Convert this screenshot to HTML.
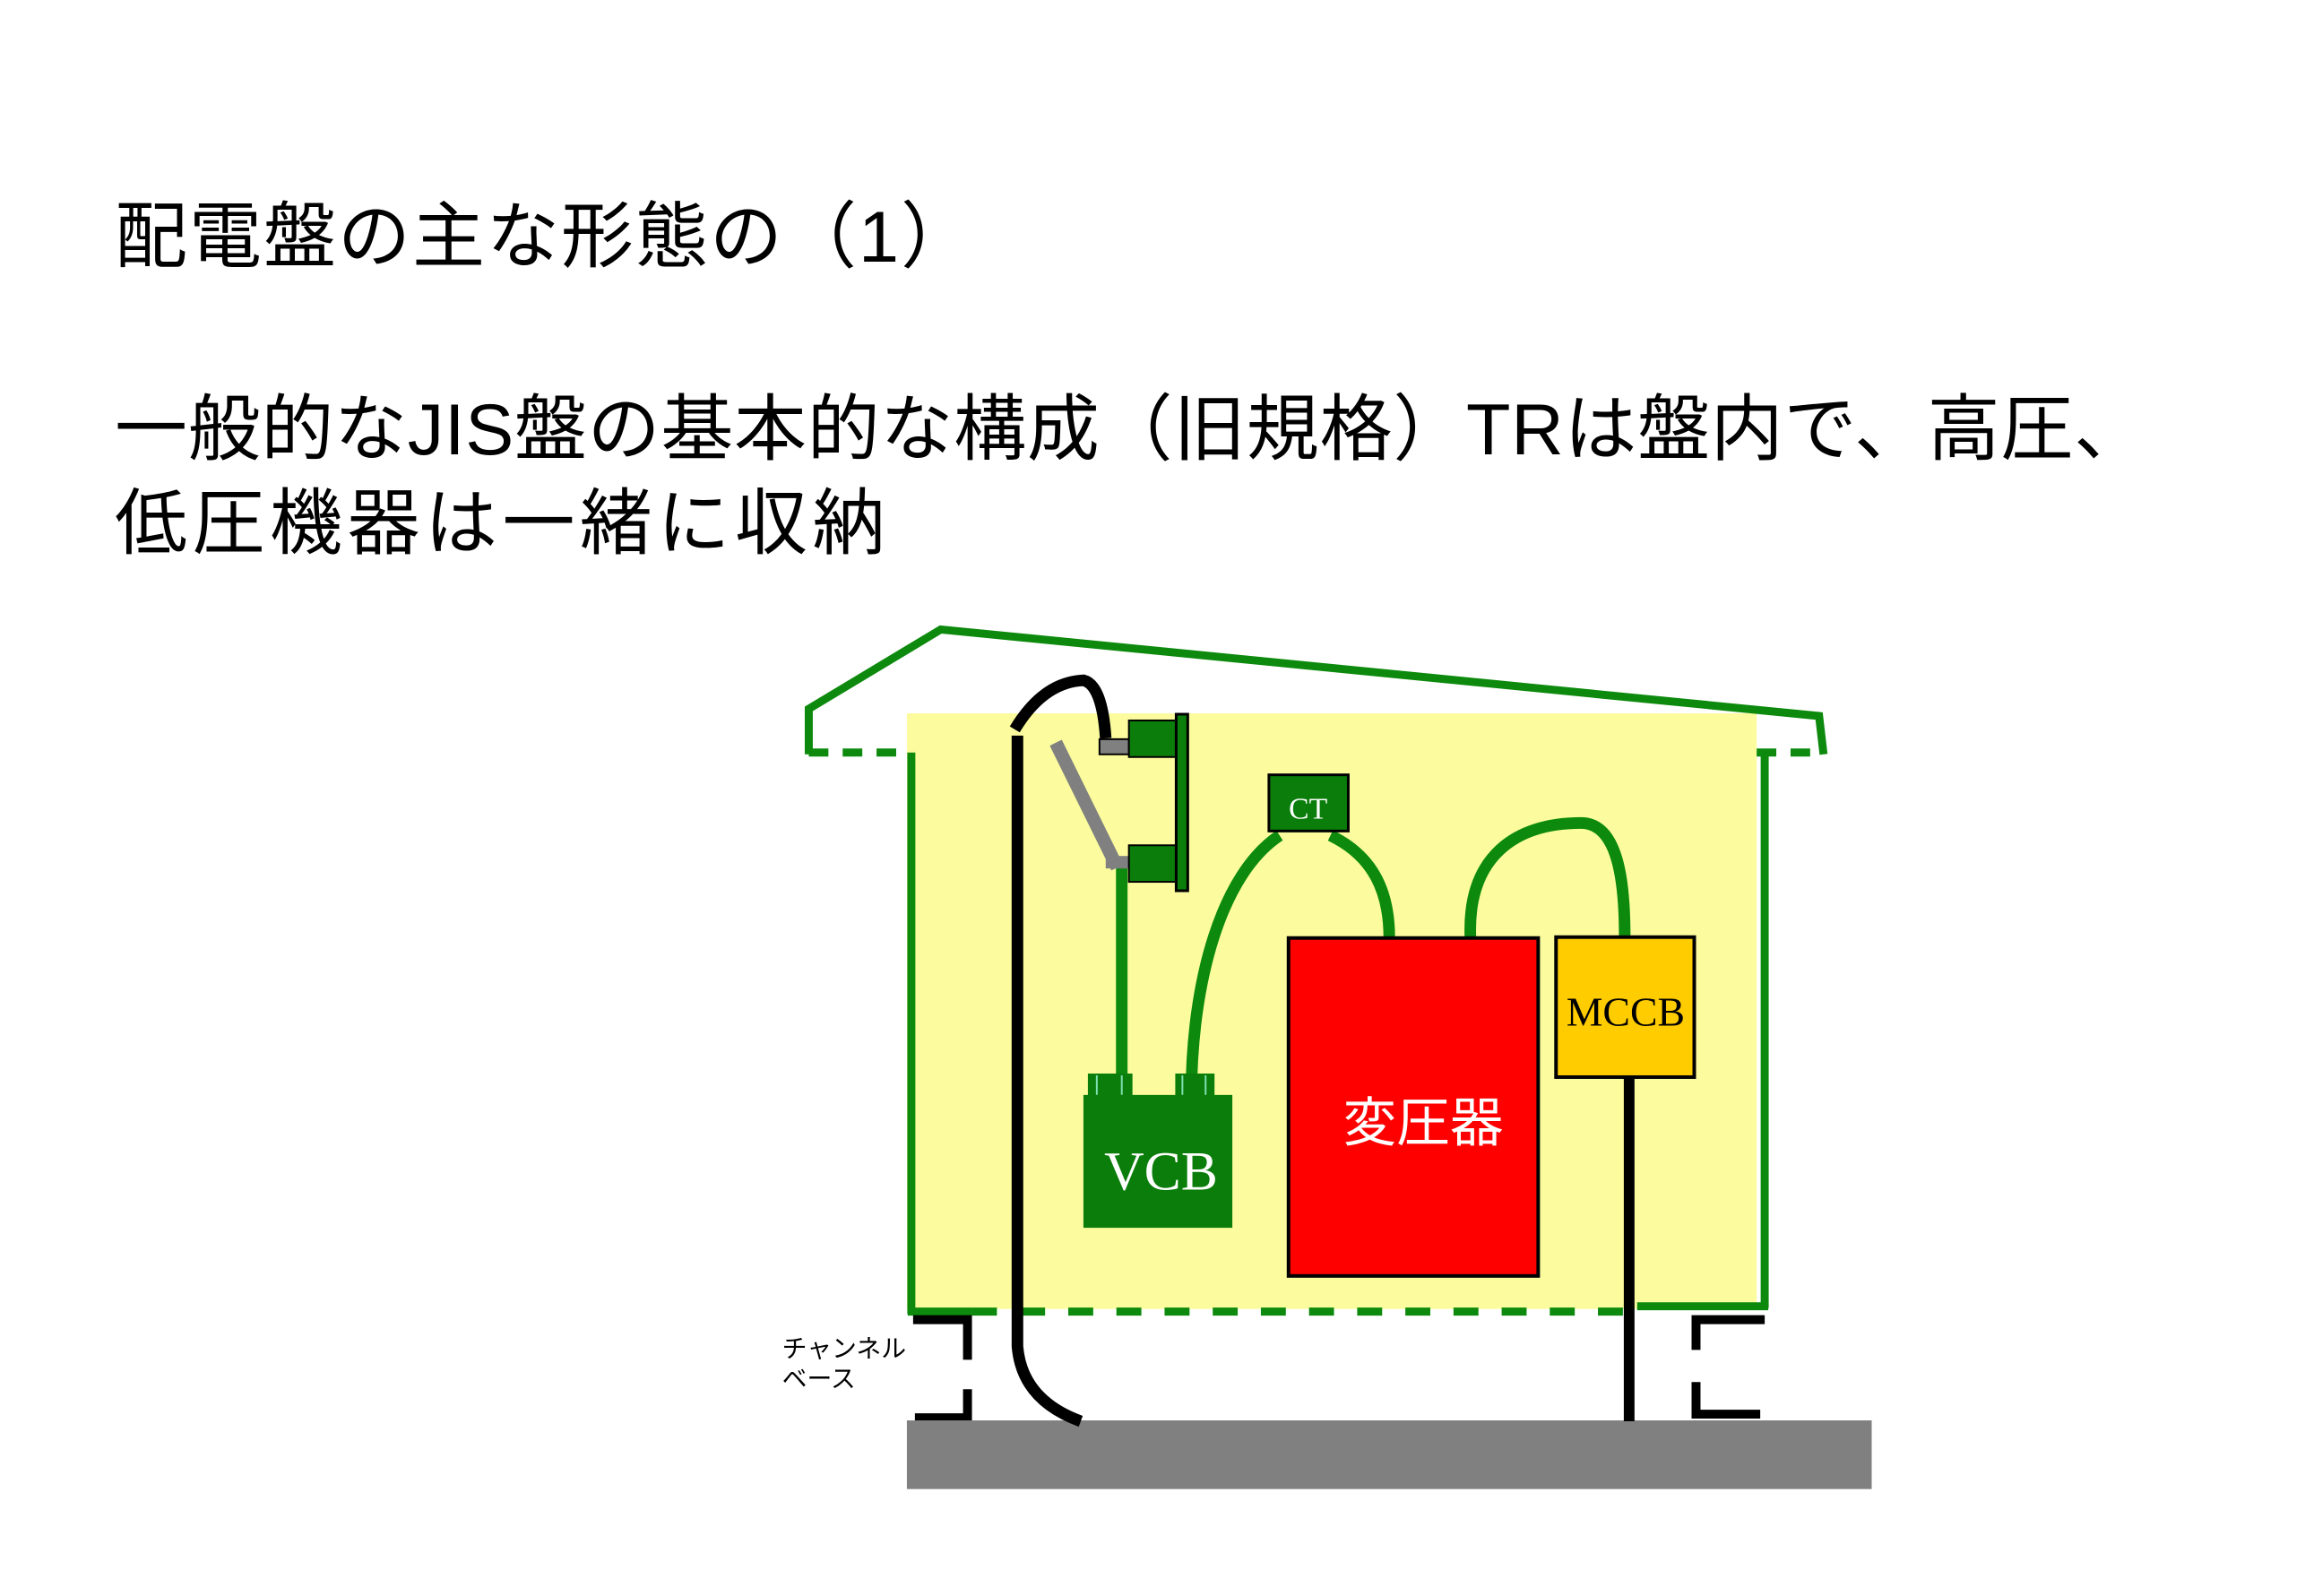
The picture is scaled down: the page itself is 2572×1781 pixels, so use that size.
<!DOCTYPE html>
<html><head><meta charset="utf-8"><style>
html,body{margin:0;padding:0;background:#fff;}
body{width:2572px;height:1781px;position:relative;overflow:hidden;}
.t{position:absolute;left:128px;font-family:"Liberation Sans","Noto Sans CJK JP",sans-serif;font-size:81px;letter-spacing:2px;color:#000;white-space:nowrap;line-height:1;}
</style></head><body>
<div class="t" style="top:225px;">配電盤の主な形態の（1）</div>
<div class="t" style="top:440px;letter-spacing:0.7px;">一般的なJIS盤の基本的な構成（旧規格）TRは盤内で、高圧、</div>
<div class="t" style="top:545px;letter-spacing:5.5px;">低圧機器は一緒に収納</div>
<svg width="2572" height="1781" style="position:absolute;left:0;top:0" xmlns="http://www.w3.org/2000/svg">
<g transform="scale(0.995)">
<rect x="1017" y="800" width="953" height="668" fill="#fcfc9e"/>
<polyline points="907,846 907,795 1055,706 2040,803 2045,846" fill="none" stroke="#0d8a0d" stroke-width="9"/>
<line x1="907" y1="844" x2="1017" y2="844" stroke="#0d8a0d" stroke-width="9" stroke-dasharray="22,16"/>
<line x1="1970" y1="844" x2="2045" y2="844" stroke="#0d8a0d" stroke-width="9" stroke-dasharray="22,16"/>
<line x1="1022" y1="844" x2="1022" y2="1474" stroke="#0d8a0d" stroke-width="9"/>
<line x1="1979" y1="844" x2="1979" y2="1467" stroke="#0d8a0d" stroke-width="9"/>
<line x1="1018" y1="1471" x2="1090" y2="1471" stroke="#0d8a0d" stroke-width="9"/>
<line x1="1090" y1="1471" x2="1836" y2="1471" stroke="#0d8a0d" stroke-width="9" stroke-dasharray="28,26"/>
<line x1="1836" y1="1465" x2="1983" y2="1465" stroke="#0d8a0d" stroke-width="9"/>
<g fill="none" stroke="#000" stroke-width="10">
<polyline points="1024,1480 1085,1480 1085,1525"/>
<polyline points="1085,1558 1085,1590 1026,1590"/>
<polyline points="1979,1480 1902,1480 1902,1514"/>
<polyline points="1902,1550 1902,1586 1974,1586"/>
</g>
<rect x="1017" y="1593" width="1082" height="77" fill="#808080"/>
<text x="877" y="1522" font-family="'Liberation Sans','Noto Sans CJK JP',sans-serif" font-size="28">チャンネル</text>
<text x="877" y="1556" font-family="'Liberation Sans','Noto Sans CJK JP',sans-serif" font-size="28">ベース</text>
<path d="M1141,825 L1141,1510 Q1146,1570 1212,1594" fill="none" stroke="#000" stroke-width="13"/>
<path d="M1138,818 Q1170,765 1215,763 Q1236,768 1240,828" fill="none" stroke="#000" stroke-width="13"/>
<line x1="1258" y1="973" x2="1258" y2="1230" stroke="#0d8a0d" stroke-width="13"/>
<path d="M1435,937 C1370,980 1336,1100 1336,1230" fill="none" stroke="#0d8a0d" stroke-width="13"/>
<path d="M1492,937 C1540,960 1558,1000 1558,1052" fill="none" stroke="#0d8a0d" stroke-width="13"/>
<path d="M1649,1052 C1645,960 1700,923 1773,923 C1815,923 1822,990 1822,1050" fill="none" stroke="#0d8a0d" stroke-width="13"/>
<rect x="1233" y="829" width="33" height="17" fill="#808080" stroke="#000" stroke-width="2"/>
<line x1="1184" y1="833" x2="1253" y2="973" stroke="#808080" stroke-width="15"/>
<rect x="1240" y="960" width="28" height="14" fill="#808080"/>
<rect x="1266" y="808" width="53" height="41" fill="#0a7d0a" stroke="#000" stroke-width="2"/>
<rect x="1266" y="948" width="53" height="41" fill="#0a7d0a" stroke="#000" stroke-width="2"/>
<rect x="1319" y="801" width="13" height="198" fill="#0a7d0a" stroke="#000" stroke-width="3"/>
<rect x="1220" y="1204" width="50" height="26" fill="#0a7d0a"/>
<rect x="1318" y="1204" width="44" height="26" fill="#0a7d0a"/>
<g stroke="#7fe0b0" stroke-width="2"><line x1="1230" y1="1206" x2="1230" y2="1228"/><line x1="1258" y1="1206" x2="1258" y2="1228"/><line x1="1326" y1="1206" x2="1326" y2="1228"/><line x1="1352" y1="1206" x2="1352" y2="1228"/></g>
<rect x="1215" y="1228" width="167" height="149" fill="#0a7d0a"/>
<text x="1302" y="1334" text-anchor="middle" font-family="'Liberation Serif',serif" font-size="62" fill="#fff">VCB</text>
<rect x="1423" y="869" width="89" height="63" fill="#0a7d0a" stroke="#000" stroke-width="3"/>
<text x="1467" y="918" text-anchor="middle" font-family="'Liberation Serif',serif" font-size="34" fill="#fff">CT</text>
<rect x="1445" y="1052" width="280" height="379" fill="#ff0000" stroke="#000" stroke-width="4"/>
<text x="1596" y="1280" text-anchor="middle" font-family="'Liberation Sans','Noto Sans CJK JP',sans-serif" font-size="60" fill="#fff">変圧器</text>
<rect x="1745" y="1051" width="155" height="157" fill="#ffcc00" stroke="#000" stroke-width="4"/>
<text x="1823" y="1150" text-anchor="middle" font-family="'Liberation Serif',serif" font-size="46" fill="#000">MCCB</text>
<line x1="1827" y1="1206" x2="1827" y2="1594" stroke="#000" stroke-width="12"/>
</g>
</svg>
</body></html>
